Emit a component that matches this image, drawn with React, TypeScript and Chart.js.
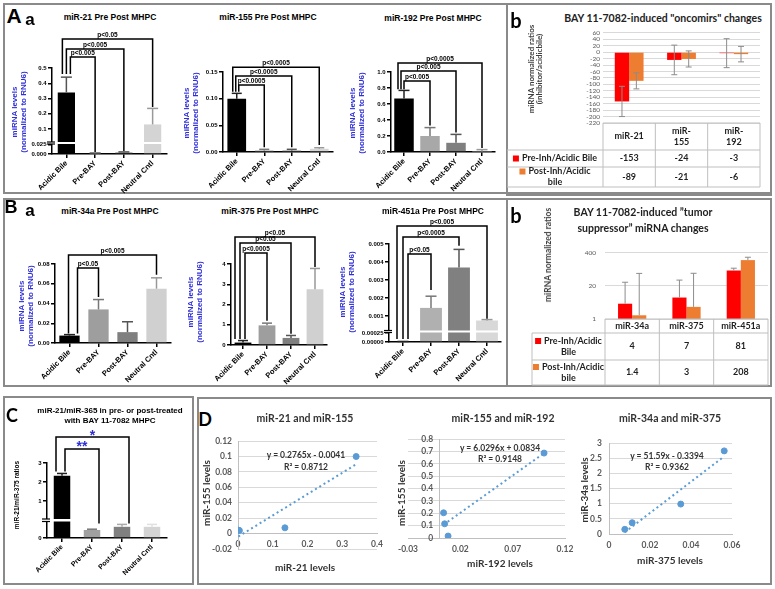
import React, { useEffect, useRef } from 'react';
import { Chart, registerables } from 'chart.js';
Chart.register(...registerables);

const ARIAL = '"Liberation Sans", Arial, Helvetica, sans-serif';
const CAL = 'Lato, "Noto Sans", sans-serif';
const BLUE = '#2f2fd8';

// ---------------- data ----------------
const groups = ['Acidic Bile', 'Pre-BAY', 'Post-BAY', 'Neutral Cntl'];

const mir21Values = [0.34, 0.002, 0.004, 0.13];
const mir21Sem = [0.1, 0.001, 0.0015, 0.105];
const mir21Ticks = [0, 0.025, 0.1, 0.2, 0.3, 0.4, 0.5];
const mir21TickLabels = ['0.000', '0.025', '0.1', '0.2', '0.3', '0.4', '0.5'];

const mir155Values = [0.1, 0.003, 0.003, 0.006];
const mir155Sem = [0.01, 0.002, 0.002, 0.002];
const mir155Ticks = [0, 0.05, 0.1, 0.15];
const mir155TickLabels = ['0.00', '0.05', '0.10', '0.15'];

const mir192Values = [0.67, 0.2, 0.115, 0.005];
const mir192Sem = [0.1, 0.105, 0.105, 0.025];
const mir192Ticks = [0, 0.2, 0.4, 0.6, 0.8, 1.0];
const mir192TickLabels = ['0.0', '0.2', '0.4', '0.6', '0.8', '1.0'];

const mir34aValues = [0.0075, 0.034, 0.011, 0.055];
const mir34aSem = [0.001, 0.01, 0.0105, 0.011];
const mir34aTicks = [0, 0.02, 0.04, 0.06, 0.08];
const mir34aTickLabels = ['0.00', '0.02', '0.04', '0.06', '0.08'];

const mir375Values = [0.12, 0.97, 0.35, 2.75];
const mir375Sem = [0.1, 0.11, 0.12, 1.03];
const mir375Ticks = [0, 1, 2, 3, 4];
const mir375TickLabels = ['0', '1', '2', '3', '4'];

const mir451aValues = [0.00001, 0.00145, 0.0037, 0.00075];
const mir451aSem = [0.000005, 0.00065, 0.001, 0.00005];
const mir451aTicks = [0, 0.00025, 0.001, 0.002, 0.003, 0.004, 0.005];
const mir451aTickLabels = ['0.00000', '0.00025', '0.001', '0.002', '0.003', '0.004', '0.005'];

const ratioValues = [2.33, 0.1, 0.14, 0.14];
const ratioSem = [0.12, 0.01, 0.03, 0.03];
const ratioTicks = [0, 1, 2, 3];
const ratioTickLabels = ['0', '1', '2', '3'];

const oncoCats = ['miR-21', 'miR-155', 'miR-192'];
const oncoPre = [-153, -24, -3];
const oncoPost = [-89, -21, -6];
const oncoPreErr = [47, 46, 45];
const oncoPostErr = [25, 25, 24];
const oncoTicks = [-220, -200, -180, -160, -140, -120, -100, -80, -60, -40, -20, 0, 20, 40, 60];

const tsCats = ['miR-34a', 'miR-375', 'miR-451a'];
const tsPre = [4, 7, 81];
const tsPost = [1.4, 3, 208];
const tsPreErrUp = [24, 27, 19];
const tsPostErrUp = [61, 60, 62];
const tsTicks = [1, 20, 400];

const d1X = [0.34, 0.001, 0.004, 0.135];
const d1Y = [0.1, 0.0045, 0.004, 0.0075];
const d1Fit = [0.2765, -0.0041, 0.8712];
const d1XTicks = [0, 0.1, 0.2, 0.3, 0.4];
const d1YTicks = [-0.02, 0, 0.02, 0.04, 0.06, 0.08, 0.1, 0.12];

const d2X = [0.1, 0.004, 0.005, 0.0083];
const d2Y = [0.687, 0.204, 0.115, 0.016];
const d2Fit = [6.0296, 0.0834, 0.9148];
const d2XTicks = [-0.03, 0.02, 0.07, 0.12];
const d2YTicks = [0, 0.1, 0.2, 0.3, 0.4, 0.5, 0.6, 0.7, 0.8];

const d3X = [0.0562, 0.035, 0.0113, 0.0077];
const d3Y = [2.74, 0.986, 0.372, 0.153];
const d3Fit = [51.59, -0.3394, 0.9362];
const d3XTicks = [0, 0.02, 0.04, 0.06];
const d3YTicks = [0, 0.5, 1, 1.5, 2, 2.5, 3];

// ---------------- helpers ----------------
function frame(box: any, area: any) {
  return {
    padding: { top: area.y0 - box.t, right: box.l + box.w - area.x1, left: 0, bottom: 0 },
    yWidth: area.x0 - box.l,
    xHeight: box.t + box.h - area.y1,
  };
}

function seg(ctx: any, x1: number, y1: number, x2: number, y2: number) {
  ctx.beginPath();
  ctx.moveTo(x1, y1);
  ctx.lineTo(x2, y2);
  ctx.stroke();
}

function makeMap(b: any) {
  if (!b) return (v: number) => v;
  return (v: number) => (v <= b.lowTop ? (v / b.lowTop) * b.lowD : b.anchorD + (v - b.anchorV) * b.slope);
}

function gpConfig(s: any) {
  const map = makeMap(s.brk);
  const f = frame(s.box, s.area);
  const dmax = map(s.ticks[s.ticks.length - 1]);
  const plugin = {
    id: 'gpExtras',
    afterDatasetsDraw(chart: any) {
      const { ctx, chartArea: ca } = chart;
      const ys = chart.scales.y;
      const meta = chart.getDatasetMeta(0);
      const P = (v: number) => ys.getPixelForValue(map(v));
      ctx.save();
      if (s.brk) {
        const yA = ys.getPixelForValue(s.brk.gap[0]);
        const yB = ys.getPixelForValue(s.brk.gap[1]);
        ctx.fillStyle = '#fff';
        ctx.fillRect(ca.left - 4.5, yB, ca.right - ca.left + 6, yA - yB);
        ctx.strokeStyle = '#000';
        ctx.lineWidth = 1.2;
        seg(ctx, ca.left - 5, yA, ca.left + 3, yA);
        seg(ctx, ca.left - 5, yB, ca.left + 3, yB);
      }
      s.values.forEach((v: number, i: number) => {
        const bar = meta.data[i];
        const x = bar.x;
        const yt = P(v + s.sems[i]);
        ctx.strokeStyle = s.errColors[i];
        ctx.lineWidth = 1.5;
        seg(ctx, x, bar.y, x, yt);
        seg(ctx, x - s.cap / 2, yt, x + s.cap / 2, yt);
      });
      ctx.strokeStyle = '#000';
      ctx.lineWidth = 1.5;
      ctx.fillStyle = s.labelColor || '#000';
      ctx.font = s.labelFont || `bold 6.5px ${ARIAL}`;
      ctx.textAlign = 'center';
      ctx.textBaseline = 'alphabetic';
      for (const b of s.brackets) {
        const xa = meta.data[b.from].x + (b.dxFrom || 0);
        const xb = meta.data[b.to].x + (b.dxTo || 0);
        const yy = P(b.at);
        ctx.beginPath();
        ctx.moveTo(xa, P(b.fromEnd));
        ctx.lineTo(xa, yy);
        ctx.lineTo(xb, yy);
        ctx.lineTo(xb, P(b.toEnd));
        ctx.stroke();
        ctx.fillText(b.label, (xa + xb) / 2, yy + (s.labelDy ?? -2));
      }
      ctx.restore();
    },
  };
  return {
    type: 'bar',
    data: {
      labels: groups,
      datasets: [{ data: s.values.map(map), backgroundColor: s.colors, borderWidth: 0, barPercentage: s.barPct, categoryPercentage: 1 }],
    },
    options: {
      animation: false,
      responsive: false,
      maintainAspectRatio: false,
      events: [],
      layout: { autoPadding: false, padding: f.padding },
      plugins: { legend: { display: false }, tooltip: { enabled: false } },
      scales: {
        x: {
          type: 'category',
          offset: true,
          grid: { display: true, drawOnChartArea: false, drawTicks: true, tickLength: 4, offset: false, color: '#000', lineWidth: 1.5 },
          border: { display: true, color: '#000', width: 1.5 },
          ticks: { autoSkip: false, minRotation: 45, maxRotation: 45, padding: 1, color: '#000', font: { family: ARIAL, size: s.xFont || 7.5, weight: 'bold' } },
          afterFit: (sc: any) => { sc.height = f.xHeight; },
        },
        y: {
          type: 'linear',
          min: 0,
          max: dmax,
          afterBuildTicks: (sc: any) => { sc.ticks = s.ticks.map((v: number) => ({ value: map(v) })); },
          grid: { display: true, drawOnChartArea: false, drawTicks: true, tickLength: 4, color: '#000', lineWidth: 1.5 },
          border: { display: true, color: '#000', width: 1.5 },
          ticks: { autoSkip: false, padding: 1.5, color: '#000', font: { family: ARIAL, size: 6, weight: 'bold' }, callback: (_v: any, i: number) => s.tickLabels[i] },
          afterFit: (sc: any) => { sc.width = f.yWidth; },
        },
      },
    },
    plugins: [plugin],
  };
}

function xlConfig(s: any) {
  const f = frame(s.box, s.area);
  const plugin = {
    id: 'xlExtras',
    afterDatasetsDraw(chart: any) {
      const { ctx } = chart;
      const ys = chart.scales.y;
      ctx.save();
      ctx.strokeStyle = '#8c8c8c';
      ctx.lineWidth = 1;
      const sets = [[s.pre, s.preUp, s.preDown], [s.post, s.postUp, s.postDown]];
      sets.forEach((st: any, d: number) => {
        const [vals, up, down] = st;
        const meta = chart.getDatasetMeta(d);
        vals.forEach((v: number, i: number) => {
          const x = meta.data[i].x;
          const yT = ys.getPixelForValue(v + up[i]);
          const yB = down ? ys.getPixelForValue(v - down[i]) : meta.data[i].y;
          seg(ctx, x, yB, x, yT);
          seg(ctx, x - 3, yT, x + 3, yT);
          if (down) seg(ctx, x - 3, yB, x + 3, yB);
        });
      });
      ctx.restore();
    },
    afterDraw(chart: any) {
      const { ctx, chartArea: ca } = chart;
      const t = s.table;
      const n = s.cats.length;
      const cw = (ca.right - ca.left) / n;
      const lx = t.labelLeft - s.box.l;
      const rows = [ca.bottom];
      t.rowH.forEach((h: number) => rows.push(rows[rows.length - 1] + h));
      ctx.save();
      ctx.strokeStyle = '#bfbfbf';
      ctx.lineWidth = 1;
      seg(ctx, ca.left, rows[0], ca.right, rows[0]);
      for (let k = 1; k < rows.length; k++) seg(ctx, lx, rows[k], ca.right, rows[k]);
      for (let i = 0; i <= n; i++) seg(ctx, ca.left + i * cw, rows[0], ca.left + i * cw, rows[rows.length - 1]);
      seg(ctx, lx, rows[1], lx, rows[rows.length - 1]);
      ctx.fillStyle = '#1f1f1f';
      ctx.font = `bold 9px ${CAL}`;
      ctx.textAlign = 'center';
      ctx.textBaseline = 'middle';
      const LH = 11;
      s.cats.forEach((c: string, i: number) => {
        const lines = t.wrap && c.length > 6 ? [c.slice(0, 4), c.slice(4)] : [c];
        const cx = ca.left + (i + 0.5) * cw;
        const cy = (rows[0] + rows[1]) / 2;
        lines.forEach((ln: string, j: number) => ctx.fillText(ln, cx, cy + (j - (lines.length - 1) / 2) * LH));
      });
      t.rows.forEach((r: any, k: number) => {
        const cy = (rows[k + 1] + rows[k + 2]) / 2;
        const ccx = (lx + ca.left) / 2;
        r.lines.forEach((ln: string, j: number) => {
          const y = cy + (j - (r.lines.length - 1) / 2) * LH;
          if (j === 0) {
            const w = ctx.measureText(ln).width;
            const start = ccx - (w + 9) / 2;
            ctx.fillStyle = r.color;
            ctx.fillRect(start, y - 3, 6, 6);
            ctx.fillStyle = '#1f1f1f';
            ctx.textAlign = 'left';
            ctx.fillText(ln, start + 9, y);
            ctx.textAlign = 'center';
          } else {
            ctx.fillText(ln, ccx, y);
          }
        });
        r.values.forEach((v: number, i: number) => ctx.fillText(String(v), ca.left + (i + 0.5) * cw, cy));
      });
      ctx.restore();
    },
  };
  return {
    type: 'bar',
    data: {
      labels: s.cats,
      datasets: [
        { data: s.pre, backgroundColor: '#ff0000', borderWidth: 0, barPercentage: 1, categoryPercentage: s.catPct },
        { data: s.post, backgroundColor: '#ed7d31', borderWidth: 0, barPercentage: 1, categoryPercentage: s.catPct },
      ],
    },
    options: {
      animation: false,
      responsive: false,
      maintainAspectRatio: false,
      events: [],
      layout: { autoPadding: false, padding: { ...f.padding, bottom: f.xHeight } },
      plugins: { legend: { display: false }, tooltip: { enabled: false } },
      scales: {
        x: { display: false, offset: true },
        y: {
          type: s.yType,
          min: s.min,
          max: s.max,
          afterBuildTicks: (sc: any) => { sc.ticks = s.ticks.map((v: number) => ({ value: v })); },
          grid: { color: '#d9d9d9', drawTicks: false, lineWidth: 1 },
          border: { display: false },
          ticks: { autoSkip: false, padding: s.tickPad, color: '#595959', font: { family: CAL, size: 6.5 }, callback: (_v: any, i: number) => String(s.ticks[i]) },
          afterFit: (sc: any) => { sc.width = f.yWidth; },
        },
      },
    },
    plugins: [plugin],
  };
}

function scConfig(s: any) {
  const f = frame(s.box, s.area);
  const pad = { ...f.padding };
  if (s.yAt0) pad.left = f.yWidth;
  if (s.xAt0) pad.bottom = f.xHeight;
  const tx0 = Math.min(...s.xs);
  const tx1 = Math.max(...s.xs);
  const tickFont = { family: CAL, size: 8.5, weight: 'bold' };
  return {
    type: 'scatter',
    data: {
      datasets: [
        {
          data: [{ x: tx0, y: s.fit[0] * tx0 + s.fit[1] }, { x: tx1, y: s.fit[0] * tx1 + s.fit[1] }],
          showLine: true, borderColor: '#5b9bd5', borderWidth: 2, borderDash: [2, 3], pointRadius: 0,
        },
        { data: s.xs.map((x: number, i: number) => ({ x, y: s.ys[i] })), pointRadius: 3, pointBackgroundColor: '#5b9bd5', pointBorderColor: '#5b9bd5', showLine: false },
      ],
    },
    options: {
      animation: false,
      responsive: false,
      maintainAspectRatio: false,
      events: [],
      layout: { autoPadding: false, padding: pad },
      plugins: { legend: { display: false }, tooltip: { enabled: false } },
      scales: {
        x: {
          type: 'linear',
          min: s.xTicks[0],
          max: s.xTicks[s.xTicks.length - 1],
          position: s.xAt0 ? { y: 0 } : 'bottom',
          afterBuildTicks: (sc: any) => { sc.ticks = s.xTicks.map((v: number) => ({ value: v })); },
          grid: { display: true, drawOnChartArea: false, drawTicks: false, color: 'rgba(0,0,0,0)' },
          border: { display: true, color: '#bfbfbf', width: 1 },
          ticks: { autoSkip: false, maxRotation: 0, padding: s.xPad, color: '#595959', font: tickFont, callback: (_v: any, i: number) => String(s.xTicks[i]) },
          afterFit: (sc: any) => { if (!s.xAt0) sc.height = f.xHeight; },
        },
        y: {
          type: 'linear',
          min: s.yTicks[0],
          max: s.yTicks[s.yTicks.length - 1],
          position: s.yAt0 ? { x: 0 } : 'left',
          afterBuildTicks: (sc: any) => { sc.ticks = s.yTicks.map((v: number) => ({ value: v })); },
          grid: { display: true, color: '#d9d9d9', drawTicks: false, lineWidth: 1 },
          border: { display: true, color: '#bfbfbf', width: 1 },
          ticks: { autoSkip: false, padding: s.yPad, color: '#595959', font: tickFont, callback: (_v: any, i: number) => String(s.yTicks[i]) + (s.yAt0 ? '\u2002 ' : '') },
          afterFit: (sc: any) => { if (!s.yAt0) sc.width = f.yWidth; },
        },
      },
    },
  };
}

// ---------------- chart specs ----------------
const GP_ERR = ['#222', '#777', '#555', '#999'];

const specA1 = {
  box: { l: 28, t: 25, w: 150, h: 170 }, area: { x0: 52, x1: 167, y0: 68, y1: 154 },
  values: mir21Values, sems: mir21Sem, ticks: mir21Ticks, tickLabels: mir21TickLabels,
  colors: ['#000', '#a6a6a6', '#7a7a7a', '#d4d4d4'], errColors: ['#555', '#777', '#555', '#999'],
  brk: { lowTop: 0.025, lowD: 9.5, anchorV: 0.1, anchorD: 25, slope: 152.5, gap: [10, 12] },
  barPct: 0.6, cap: 11,
  brackets: [
    { from: 0, to: 1, at: 0.572, fromEnd: 0.46, toEnd: 0.005, label: 'p<0.005', dxFrom: 4 },
    { from: 0, to: 2, at: 0.625, fromEnd: 0.46, toEnd: 0.008, label: 'p<0.005', dxFrom: 0 },
    { from: 0, to: 3, at: 0.69, fromEnd: 0.46, toEnd: 0.244, label: 'p<0.05', dxFrom: -4 },
  ],
};

const specA2 = {
  box: { l: 195, t: 25, w: 150, h: 170 }, area: { x0: 223, x1: 333, y0: 72, y1: 152 },
  values: mir155Values, sems: mir155Sem, ticks: mir155Ticks, tickLabels: mir155TickLabels,
  colors: ['#000', '#b0b0b0', '#9a9a9a', '#d6d6d6'], errColors: GP_ERR,
  barPct: 0.68, cap: 10,
  brackets: [
    { from: 0, to: 1, at: 0.1256, fromEnd: 0.113, toEnd: 0.009, label: 'p<0.0005', dxFrom: 2 },
    { from: 0, to: 2, at: 0.1425, fromEnd: 0.113, toEnd: 0.009, label: 'p<0.0005', dxFrom: -1 },
    { from: 0, to: 3, at: 0.159, fromEnd: 0.113, toEnd: 0.013, label: 'p<0.0005', dxFrom: -4 },
  ],
};

const specA3 = {
  box: { l: 362, t: 25, w: 142, h: 170 }, area: { x0: 391, x1: 495, y0: 72, y1: 152 },
  values: mir192Values, sems: mir192Sem, ticks: mir192Ticks, tickLabels: mir192TickLabels,
  colors: ['#000', '#a8a8a8', '#7f7f7f', '#d9d9d9'], errColors: GP_ERR,
  barPct: 0.75, cap: 11,
  brackets: [
    { from: 0, to: 1, at: 0.8875, fromEnd: 0.785, toEnd: 0.33, label: 'p<0.005', dxFrom: 0 },
    { from: 0, to: 2, at: 1.0125, fromEnd: 0.785, toEnd: 0.245, label: 'p<0.005', dxFrom: -3 },
    { from: 0, to: 3, at: 1.1125, fromEnd: 0.785, toEnd: 0.05, label: 'p<0.0005', dxFrom: -6 },
  ],
};

const specB1 = {
  box: { l: 28, t: 218, w: 150, h: 170 }, area: { x0: 55, x1: 171, y0: 264, y1: 343 },
  values: mir34aValues, sems: mir34aSem, ticks: mir34aTicks, tickLabels: mir34aTickLabels,
  colors: ['#000', '#9e9e9e', '#7f7f7f', '#d0d0d0'], errColors: GP_ERR,
  barPct: 0.7, cap: 11,
  brackets: [
    { from: 0, to: 1, at: 0.076, fromEnd: 0.0095, toEnd: 0.0465, label: 'p<0.05', dxFrom: 8 },
    { from: 0, to: 3, at: 0.089, fromEnd: 0.0095, toEnd: 0.069, label: 'p<0.005', dxFrom: -1 },
  ],
};

const specB2 = {
  box: { l: 197, t: 218, w: 150, h: 170 }, area: { x0: 231, x1: 327, y0: 264, y1: 345 },
  values: mir375Values, sems: mir375Sem, ticks: mir375Ticks, tickLabels: mir375TickLabels,
  colors: ['#000', '#9e9e9e', '#7f7f7f', '#d0d0d0'], errColors: GP_ERR,
  barPct: 0.7, cap: 10,
  brackets: [
    { from: 0, to: 1, at: 4.54, fromEnd: 0.3, toEnd: 1.2, label: 'p<0.0005', dxFrom: 2 },
    { from: 0, to: 2, at: 5.04, fromEnd: 0.3, toEnd: 0.55, label: 'p<0.05', dxFrom: -3 },
    { from: 0, to: 3, at: 5.33, fromEnd: 0.3, toEnd: 3.85, label: 'p<0.05', dxFrom: -8 },
  ],
};

const specB3 = {
  box: { l: 355, t: 215, w: 150, h: 173 }, area: { x0: 389, x1: 501, y0: 244, y1: 342 },
  values: mir451aValues, sems: mir451aSem, ticks: mir451aTicks, tickLabels: mir451aTickLabels,
  colors: ['#000', '#b0b0b0', '#808080', '#d8d8d8'], errColors: GP_ERR,
  brk: { lowTop: 0.00025, lowD: 9, anchorV: 0.001, anchorD: 26, slope: 18000, gap: [9.5, 11.5] },
  barPct: 0.78, cap: 11,
  brackets: [
    { from: 0, to: 1, at: 0.00444, fromEnd: 0.00008, toEnd: 0.00244, label: 'p<0.05', dxFrom: 5 },
    { from: 0, to: 2, at: 0.00539, fromEnd: 0.00008, toEnd: 0.0049, label: 'p<0.0005', dxFrom: 0 },
    { from: 0, to: 3, at: 0.006, fromEnd: 0.00008, toEnd: 0.00085, label: 'p<0.005', dxFrom: -6 },
  ],
};

const specC = {
  box: { l: 22, t: 425, w: 160, h: 160 }, area: { x0: 47, x1: 167, y0: 463, y1: 538 },
  values: ratioValues, sems: ratioSem, ticks: ratioTicks, tickLabels: ratioTickLabels,
  colors: ['#000', '#a0a0a0', '#808080', '#d4d4d4'], errColors: ['#222', '#777', '#aaa', '#e0e0e0'],
  brk: { lowTop: 0.2, lowD: 16, anchorV: 1, anchorD: 37, slope: 19, gap: [16.5, 19] },
  barPct: 0.55, cap: 10, xFont: 7,
  labelFont: `bold 14px ${ARIAL}`, labelColor: BLUE, labelDy: 2.5,
  brackets: [
    { from: 0, to: 1, at: 3.737, fromEnd: 2.55, toEnd: 0.18, label: '**', dxFrom: 3, dxTo: 7 },
    { from: 0, to: 2, at: 4.368, fromEnd: 2.55, toEnd: 0.18, label: '*', dxFrom: -6, dxTo: 7 },
  ],
};

const specAb = {
  box: { l: 507, t: 26, w: 262, h: 166 }, area: { x0: 603, x1: 760, y0: 31, y1: 123 },
  cats: oncoCats, pre: oncoPre, post: oncoPost, preUp: oncoPreErr, preDown: oncoPreErr, postUp: oncoPostErr, postDown: oncoPostErr,
  yType: 'linear', min: -220, max: 60, ticks: oncoTicks, tickPad: 3, catPct: 0.55,
  table: {
    labelLeft: 507, rowH: [27, 17, 20], wrap: true,
    rows: [
      { color: '#ff0000', lines: ['Pre-Inh/Acidic Bile'], values: oncoPre },
      { color: '#ed7d31', lines: ['Post-Inh/Acidic', 'bile'], values: oncoPost },
    ],
  },
};

const specBb = {
  box: { l: 507, t: 240, w: 263, h: 147 }, area: { x0: 605, x1: 768, y0: 252, y1: 319 },
  cats: tsCats, pre: tsPre, post: tsPost, preUp: tsPreErrUp, preDown: null, postUp: tsPostErrUp, postDown: null,
  yType: 'logarithmic', min: 1, max: 400, ticks: tsTicks, tickPad: 9, catPct: 0.52,
  table: {
    labelLeft: 532, rowH: [14, 27, 25], wrap: false,
    rows: [
      { color: '#ff0000', lines: ['Pre-Inh/Acidic', 'Bile'], values: tsPre },
      { color: '#ed7d31', lines: ['Post-Inh/Acidic', 'bile'], values: tsPost },
    ],
  },
};

const specD1 = {
  box: { l: 199, t: 430, w: 190, h: 145 }, area: { x0: 238, x1: 377, y0: 437, y1: 549 },
  xs: d1X, ys: d1Y, fit: d1Fit, xTicks: d1XTicks, yTicks: d1YTicks, xAt0: true, yAt0: false, xPad: 6, yPad: 6,
};
const specD2 = {
  box: { l: 392, t: 430, w: 188, h: 145 }, area: { x0: 408, x1: 565, y0: 438, y1: 538 },
  xs: d2X, ys: d2Y, fit: d2Fit, xTicks: d2XTicks, yTicks: d2YTicks, xAt0: false, yAt0: true, xPad: 6, yPad: 4,
};
const specD3 = {
  box: { l: 585, t: 430, w: 185, h: 145 }, area: { x0: 609, x1: 732, y0: 443, y1: 534 },
  xs: d3X, ys: d3Y, fit: d3Fit, xTicks: d3XTicks, yTicks: d3YTicks, xAt0: false, yAt0: false, xPad: 6, yPad: 7,
};

// ---------------- components ----------------
function ChartCanvas({ box, make }: any) {
  const ref = useRef<HTMLCanvasElement>(null);
  useEffect(() => {
    const chart = new Chart(ref.current as any, make() as any);
    return () => chart.destroy();
  }, []);
  return (
    <div style={{ position: 'absolute', left: box.l, top: box.t, width: box.w, height: box.h }}>
      <canvas ref={ref} width={box.w} height={box.h} style={{ width: box.w, height: box.h, display: 'block' }} />
    </div>
  );
}

function Txt(p: any) {
  const lines = Array.isArray(p.text) ? p.text : [p.text];
  return (
    <div
      style={{
        position: 'absolute', left: p.x, top: p.y,
        transform: `translate(-50%, -50%)${p.rot ? ' rotate(-90deg)' : ''}`,
        fontFamily: p.font ?? ARIAL, fontSize: p.size, fontWeight: p.weight ?? 'bold',
        color: p.color ?? '#000', whiteSpace: 'nowrap', textAlign: 'center',
        lineHeight: `${p.lh ?? Math.round(p.size * 1.2)}px`,
      }}
    >
      {lines.map((l: string, i: number) => <div key={i}>{l}</div>)}
    </div>
  );
}

function Frame({ l, t, w, h }: any) {
  return <div style={{ position: 'absolute', left: l, top: t, width: w, height: h, border: '2px solid #8a8a8a', boxSizing: 'border-box' }} />;
}

const eq = (fit: number[]) => `y = ${fit[0]}x ${fit[1] < 0 ? '-' : '+'} ${Math.abs(fit[1])}`;
const r2 = (fit: number[]) => `R\u00b2 = ${fit[2]}`;
const YT = ['miRNA levels', '(normalized to RNU6)'];

export default function App() {
  return (
    <div style={{ position: 'absolute', left: 0, top: 0, width: 775, height: 589, background: '#fff', overflow: 'hidden' }}>
      <Frame l={3} t={3} w={769} h={191} />
      <Frame l={506} t={3} w={266} h={193} />
      <Frame l={3} t={198} w={769} h={189} />
      <Frame l={506} t={198} w={266} h={189} />
      <Frame l={3} t={396} w={191} h={189} />
      <Frame l={197} t={397} w={575} h={188} />

      <ChartCanvas box={specA1.box} make={() => gpConfig(specA1)} />
      <ChartCanvas box={specA2.box} make={() => gpConfig(specA2)} />
      <ChartCanvas box={specA3.box} make={() => gpConfig(specA3)} />
      <ChartCanvas box={specB1.box} make={() => gpConfig(specB1)} />
      <ChartCanvas box={specB2.box} make={() => gpConfig(specB2)} />
      <ChartCanvas box={specB3.box} make={() => gpConfig(specB3)} />
      <ChartCanvas box={specC.box} make={() => gpConfig(specC)} />
      <ChartCanvas box={specAb.box} make={() => xlConfig(specAb)} />
      <ChartCanvas box={specBb.box} make={() => xlConfig(specBb)} />
      <ChartCanvas box={specD1.box} make={() => scConfig(specD1)} />
      <ChartCanvas box={specD2.box} make={() => scConfig(specD2)} />
      <ChartCanvas box={specD3.box} make={() => scConfig(specD3)} />

      {/* panel letters */}
      <Txt x={14} y={15} text="A" size={21} />
      <Txt x={30} y={20} text="a" size={17} />
      <Txt x={516} y={20} text="b" size={20} font={CAL} />
      <Txt x={11} y={207} text="B" size={18} />
      <Txt x={30} y={211} text="a" size={17} />
      <Txt x={516} y={215} text="b" size={20} font={CAL} />
      <Txt x={12} y={415} text="C" size={18} font={CAL} />
      <Txt x={205} y={419} text="D" size={18} font={CAL} />

      {/* GraphPad titles */}
      <Txt x={110} y={17} text="miR-21 Pre Post MHPC" size={8.5} />
      <Txt x={268} y={17} text="miR-155 Pre Post MHPC" size={8.5} />
      <Txt x={433} y={18} text="miR-192 Pre Post MHPC" size={8.5} />
      <Txt x={110} y={211} text="miR-34a Pre Post MHPC" size={8.5} />
      <Txt x={270} y={211} text="miR-375 Pre Post MHPC" size={8.5} />
      <Txt x={433} y={211} text="miR-451a Pre Post MHPC" size={8.5} />

      {/* blue y titles */}
      <Txt x={19} y={112} text={YT} size={8} lh={9} color={BLUE} rot />
      <Txt x={191} y={113} text={YT} size={8} lh={9} color={BLUE} rot />
      <Txt x={357} y={113} text={YT} size={8} lh={9} color={BLUE} rot />
      <Txt x={26} y={306} text={YT} size={8} lh={9} color={BLUE} rot />
      <Txt x={195} y={302} text={YT} size={8} lh={9} color={BLUE} rot />
      <Txt x={347} y={292} text={YT} size={8} lh={9} color={BLUE} rot />

      {/* Excel panel titles */}
      <Txt x={663} y={18} text={'BAY 11-7082-induced "oncomirs" changes'} size={10.5} font={CAL} color="#222" />
      <Txt x={535} y={69} text={['miRNA normalized ratios', '(inhibitor/acidicbile)']} size={8} lh={8} font={CAL} color="#404040" rot />
      <Txt x={643} y={220} text={['BAY 11-7082-induced \u201dtumor', 'suppressor\u201d miRNA changes']} size={10.5} lh={16} font={CAL} color="#222" />
      <Txt x={548} y={255} text="miRNA normalized ratios" size={8.5} font={CAL} color="#404040" rot />

      {/* C */}
      <Txt x={110} y={416} text={['miR-21/miR-365 in pre- or post-treated', 'with BAY 11-7082 MHPC']} size={8} lh={10} />
      <Txt x={17} y={495} text="miR-21/miR-375 ratios" size={6.5} rot />

      {/* D */}
      <Txt x={305} y={418} text="miR-21 and miR-155" size={10.5} font={CAL} color="#333" />
      <Txt x={503} y={418} text="miR-155 and miR-192" size={10.5} font={CAL} color="#333" />
      <Txt x={670} y={418} text="miR-34a and miR-375" size={10.5} font={CAL} color="#333" />
      <Txt x={206} y={493} text="miR-155 levels" size={10} font={CAL} color="#333" rot />
      <Txt x={401} y={493} text="miR-155 levels" size={10} font={CAL} color="#333" rot />
      <Txt x={584} y={490} text="miR-34a levels" size={10} font={CAL} color="#333" rot />
      <Txt x={305} y={567} text="miR-21 levels" size={10} font={CAL} color="#333" />
      <Txt x={500} y={563} text="miR-192 levels" size={10} font={CAL} color="#333" />
      <Txt x={670} y={560} text="miR-375 levels" size={10} font={CAL} color="#333" />
      <Txt x={306} y={455} text={eq(d1Fit)} size={8.5} font={CAL} color="#333" />
      <Txt x={306} y={467} text={r2(d1Fit)} size={8.5} font={CAL} color="#333" />
      <Txt x={500} y={448} text={eq(d2Fit)} size={8.5} font={CAL} color="#333" />
      <Txt x={500} y={459} text={r2(d2Fit)} size={8.5} font={CAL} color="#333" />
      <Txt x={667} y={456} text={eq(d3Fit)} size={8.5} font={CAL} color="#333" />
      <Txt x={667} y={467} text={r2(d3Fit)} size={8.5} font={CAL} color="#333" />
    </div>
  );
}
